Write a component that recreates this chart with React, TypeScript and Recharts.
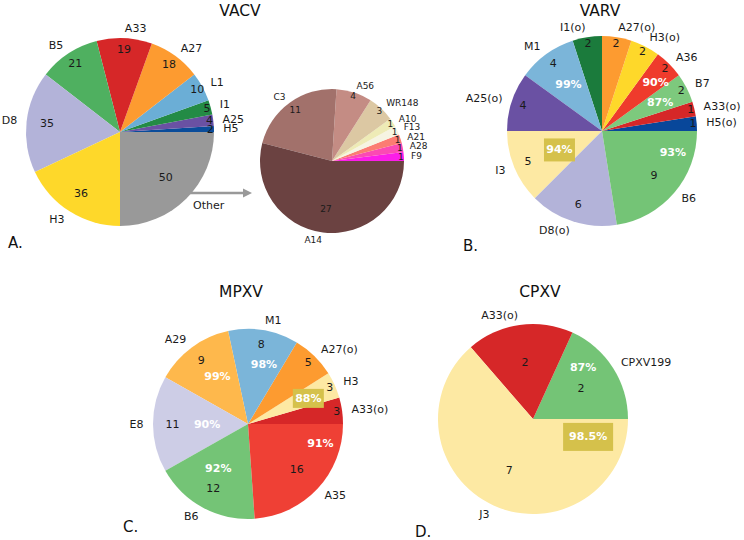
import React from "react";
import { PieChart, Pie, Cell } from "recharts";

// VACV
const vacvGenes = ["H5", "A25", "I1", "L1", "A27", "A33", "B5", "D8", "H3", "Other"];
const vacvCounts = [2, 4, 5, 10, 18, 19, 21, 35, 36, 50];

// VACV "Other" breakdown
const otherGenes = ["F9", "A28", "A21", "F13", "A10", "WR148", "A56", "C3", "A14"];
const otherCounts = [1, 1, 1, 1, 1, 3, 4, 11, 27];

// VARV
const varvGenes = ["H5(o)", "A33(o)", "B7", "A36", "H3(o)", "A27(o)", "I1(o)", "M1", "A25(o)", "I3", "D8(o)", "B6"];
const varvCounts = [1, 1, 2, 2, 2, 2, 2, 4, 4, 5, 6, 9];
const varvIdGenes = ["M1", "A36", "B7", "B6", "I3"];
const varvIdentity = ["99%", "90%", "87%", "93%", "94%"];

// MPXV
const mpxvGenes = ["A33(o)", "H3", "A27(o)", "M1", "A29", "E8", "B6", "A35"];
const mpxvCounts = [3, 3, 5, 8, 9, 11, 12, 16];
const mpxvIdGenes = ["M1", "A29", "H3", "E8", "B6", "A35"];
const mpxvIdentity = ["98%", "99%", "88%", "90%", "92%", "91%"];

// CPXV
const cpxvGenes = ["CPXV199", "A33(o)", "J3"];
const cpxvCounts = [2, 2, 7];
const cpxvIdGenes = ["CPXV199", "J3"];
const cpxvIdentity = ["87%", "98.5%"];

// colours
const vacvColors = ["#0a4c9a", "#6a51a3", "#238b45", "#6baed6", "#fd9b30", "#d62728", "#4fb060", "#b3b3d9", "#fed82a", "#999999"];
const otherColors = ["#fb1ee8", "#fb4ab4", "#fb7c72", "#f6f4e2", "#eeebb6", "#dcc8a3", "#c48c84", "#a2716b", "#6b4241"];
const varvColors = ["#08479a", "#d62728", "#7dc97d", "#ef3b2c", "#fed82a", "#fd9b30", "#1b7b3c", "#7bb5d9", "#6a51a3", "#fde9a3", "#b3b3d9", "#74c476"];
const mpxvColors = ["#d62728", "#fde9a3", "#fd9b30", "#7bb5d9", "#feb84c", "#cdcde6", "#74c476", "#ef4035"];
const cpxvColors = ["#74c476", "#d62728", "#fde9a3"];

// where the identity annotations sit: [radius fraction, angle deg, box w, box h]
const varvIdPlace = [[0.6, 126, 0, 0], [0.76, 42, 0, 0], [0.68, 26, 0, 0], [0.78, 343, 0, 0], [0.49, 204, 31, 23]];
const mpxvIdPlace = [[0.65, 75, 0, 0], [0.59, 123, 0, 0], [0.69, 23, 31, 19], [0.43, 180, 0, 0], [0.56, 236, 0, 0], [0.79, 345, 0, 0]];
const cpxvIdPlace = [[0.76, 46, 0, 0], [0.61, 342, 50, 28]];

const FONT = "DejaVu Sans, Liberation Sans, sans-serif";
const RAD = Math.PI / 180;
const BOX = "#d5c14b";

const toRows = (genes: string[], counts: number[]) =>
  genes.map((g, i) => ({ name: g, value: counts[i] }));

const makeLabel = (opts: {
  fontSize: number;
  valueR: (f: number) => number;
  idGenes?: string[];
  idText?: string[];
  idPlace?: number[][];
}) => (props: any) => {
  const { cx, cy, midAngle, outerRadius, percent, name, value } = props;
  const cos = Math.cos(-midAngle * RAD);
  const sin = Math.sin(-midAngle * RAD);
  const lx = cx + outerRadius * 1.1 * cos;
  const ly = cy + outerRadius * 1.1 * sin;
  const vr = outerRadius * opts.valueR(percent);
  const vx = cx + vr * cos;
  const vy = cy + vr * sin;
  const k = opts.idGenes ? opts.idGenes.indexOf(name) : -1;
  let ann = null;
  if (k >= 0 && opts.idPlace && opts.idText) {
    const [rf, ang, bw, bh] = opts.idPlace[k];
    const ax = cx + outerRadius * rf * Math.cos(-ang * RAD);
    const ay = cy + outerRadius * rf * Math.sin(-ang * RAD);
    ann = (
      <g>
        {bw > 0 && <rect x={ax - bw / 2} y={ay - bh / 2} width={bw} height={bh} fill={BOX} />}
        <text x={ax} y={ay} textAnchor="middle" dominantBaseline="central" fill="#fff"
          fontWeight="bold" fontSize={11} fontFamily={FONT}>
          {opts.idText[k]}
        </text>
      </g>
    );
  }
  return (
    <g>
      <text x={lx} y={ly} textAnchor={lx > cx ? "start" : "end"} dominantBaseline="central"
        fill="#1a1a1a" fontSize={opts.fontSize} fontFamily={FONT}>
        {name}
      </text>
      <text x={vx} y={vy} textAnchor="middle" dominantBaseline="central"
        fill="#1a1a1a" fontSize={opts.fontSize} fontFamily={FONT}>
        {value}
      </text>
      {ann}
    </g>
  );
};

const bySize = (f: number) => Math.min(0.96, 1 - 1.25 * f);

const vacvLabel = makeLabel({ fontSize: 11, valueR: bySize });
const otherLabel = makeLabel({ fontSize: 9, valueR: (f) => Math.min(0.96, 1 - 0.6 * f) });
const varvLabel = makeLabel({ fontSize: 11, valueR: bySize, idGenes: varvIdGenes, idText: varvIdentity, idPlace: varvIdPlace });
const mpxvLabel = makeLabel({ fontSize: 11, valueR: bySize, idGenes: mpxvIdGenes, idText: mpxvIdentity, idPlace: mpxvIdPlace });
const cpxvLabel = makeLabel({ fontSize: 11, valueR: () => 0.6, idGenes: cpxvIdGenes, idText: cpxvIdentity, idPlace: cpxvIdPlace });

const titleStyle = { fontSize: 15.5, fontFamily: FONT, fill: "#111" };
const letterStyle = { fontSize: 15, fontFamily: FONT, fill: "#111" };

export default function App() {
  const pies = [
    { key: "vacv", rows: toRows(vacvGenes, vacvCounts), colors: vacvColors, cx: 120, cy: 132, r: 94, label: vacvLabel },
    { key: "other", rows: toRows(otherGenes, otherCounts), colors: otherColors, cx: 332, cy: 161, r: 72, label: otherLabel },
    { key: "varv", rows: toRows(varvGenes, varvCounts), colors: varvColors, cx: 602, cy: 131, r: 95, label: varvLabel },
    { key: "mpxv", rows: toRows(mpxvGenes, mpxvCounts), colors: mpxvColors, cx: 248, cy: 424, r: 95, label: mpxvLabel },
    { key: "cpxv", rows: toRows(cpxvGenes, cpxvCounts), colors: cpxvColors, cx: 533, cy: 419, r: 95, label: cpxvLabel },
  ];

  return (
    <div style={{ position: "absolute", left: 0, top: 0, width: 744, height: 540, background: "#fff" }}>
      <PieChart width={744} height={540} margin={{ top: 0, right: 0, bottom: 0, left: 0 }}>
        {pies.map((p) => (
          <Pie
            key={p.key}
            data={p.rows}
            dataKey="value"
            nameKey="name"
            cx={p.cx}
            cy={p.cy}
            outerRadius={p.r}
            startAngle={0}
            endAngle={360}
            stroke="none"
            labelLine={false}
            label={p.label}
            isAnimationActive={false}
          >
            {p.rows.map((row, i) => (
              <Cell key={row.name} fill={p.colors[i]} />
            ))}
          </Pie>
        ))}
      </PieChart>
      <svg width={744} height={540} style={{ position: "absolute", left: 0, top: 0, pointerEvents: "none" }}>
        <text x={240} y={11} textAnchor="middle" dominantBaseline="central" style={titleStyle}>VACV</text>
        <text x={600} y={11} textAnchor="middle" dominantBaseline="central" style={titleStyle}>VARV</text>
        <text x={241} y={292} textAnchor="middle" dominantBaseline="central" style={titleStyle}>MPXV</text>
        <text x={540} y={292} textAnchor="middle" dominantBaseline="central" style={titleStyle}>CPXV</text>
        <text x={8} y={243} dominantBaseline="central" style={letterStyle}>A.</text>
        <text x={463} y={246} dominantBaseline="central" style={letterStyle}>B.</text>
        <text x={123} y={527} dominantBaseline="central" style={letterStyle}>C.</text>
        <text x={415} y={532} dominantBaseline="central" style={letterStyle}>D.</text>
        <line x1={190} y1={193} x2={244} y2={193} stroke="#999" strokeWidth={2.5} />
        <polygon points="252,193 243,188.5 243,197.5" fill="#999" />
      </svg>
    </div>
  );
}
